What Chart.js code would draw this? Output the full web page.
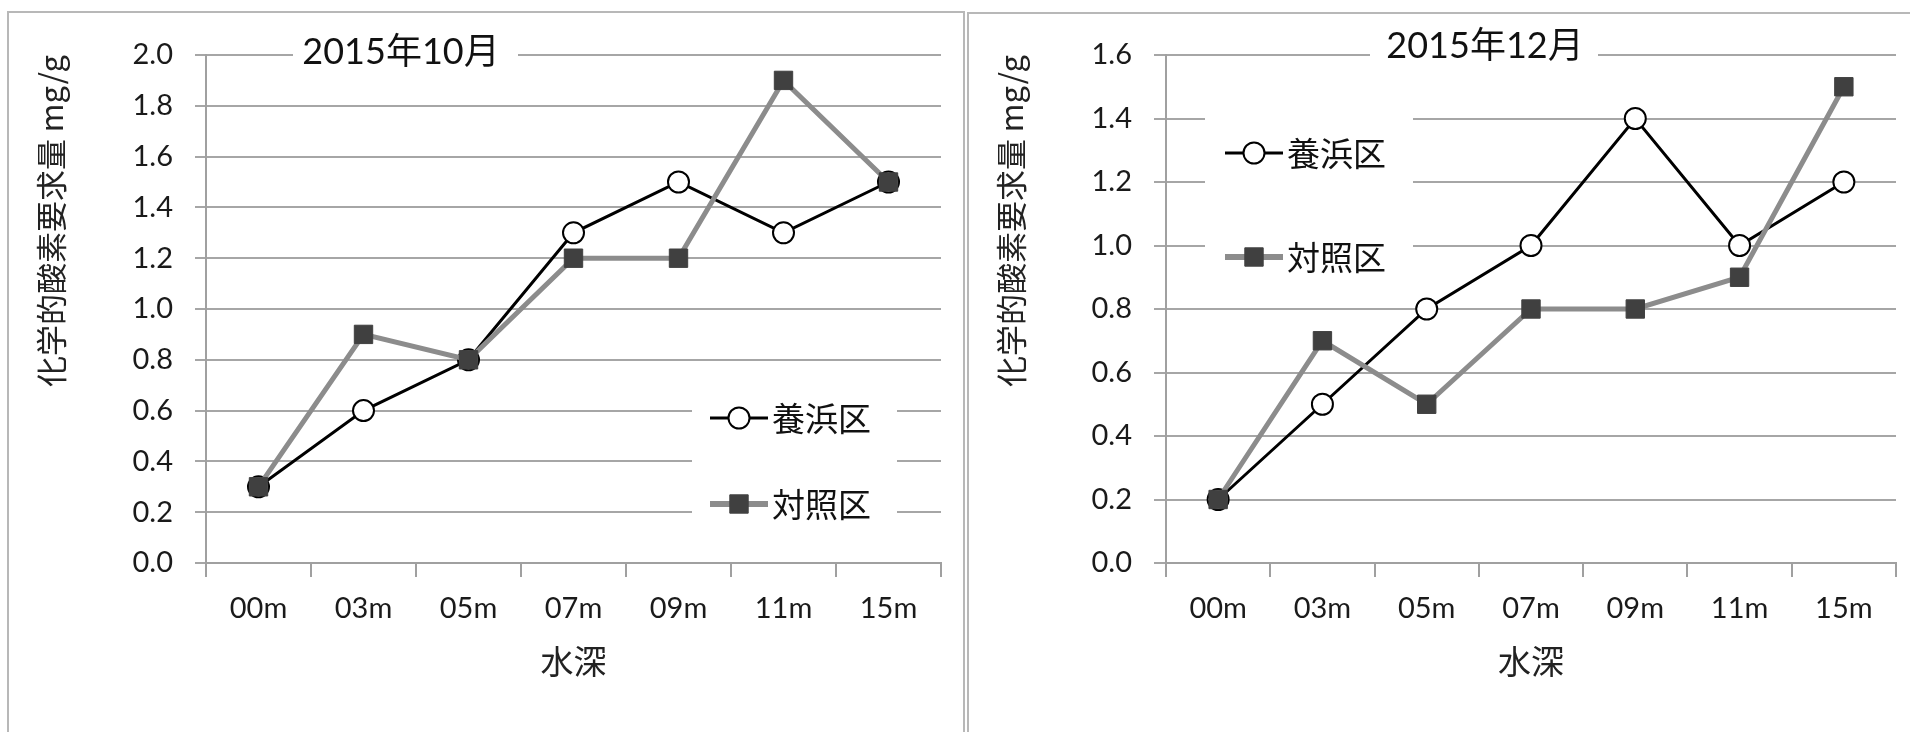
<!DOCTYPE html>
<html><head><meta charset="utf-8">
<script src="https://cdn.jsdelivr.net/npm/chart.js@4.4.1/dist/chart.umd.min.js"></script>
<style>
html,body{margin:0;padding:0;background:#fff;width:1910px;height:732px;overflow:hidden}
.panel{position:absolute;border:2px solid #b8b8b8;border-bottom:none;box-sizing:border-box}
.wrap{position:absolute;top:0;height:732px}
</style></head><body>
<div class="panel" style="left:7px;top:11px;width:958px;height:760px"></div>
<div class="panel" style="left:967px;top:12px;width:1000px;height:760px"></div>
<div class="wrap" style="left:0;width:962px"><canvas id="c1"></canvas></div>
<div class="wrap" style="left:964px;width:946px"><canvas id="c2"></canvas></div>
<script>
// ---- data ----
const depthLabels = ['00m','03m','05m','07m','09m','11m','15m'];
const seriesNames = ['養浜区','対照区'];
const octYohin  = [0.3, 0.6, 0.8, 1.3, 1.5, 1.3, 1.5];
const octTaisho = [0.3, 0.9, 0.8, 1.2, 1.2, 1.9, 1.5];
const decYohin  = [0.2, 0.5, 0.8, 1.0, 1.4, 1.0, 1.2];
const decTaisho = [0.2, 0.7, 0.5, 0.8, 0.8, 0.9, 1.5];
const titleOct = '2015年10月';
const titleDec = '2015年12月';
const yAxisTitle = '化学的酸素要求量 mg/g';
const xAxisTitle = '水深';
const yMaxOct = 2.0, yMaxDec = 1.6, yStep = 0.2;

const FONT = 'Lato, "Noto Sans CJK JP", sans-serif';
const CJK = '"Noto Sans CJK JP", Lato, sans-serif';
Chart.defaults.font.family = FONT;

const boxPlugin = {
  id: 'boxes',
  beforeDatasetsDraw(chart, args, o) {
    const ctx = chart.ctx;
    ctx.save();
    // title box
    const t = o.title;
    ctx.fillStyle = '#fff';
    ctx.fillRect(t.boxL, t.y - 22, t.boxR - t.boxL, 44);
    ctx.fillStyle = '#111';
    ctx.font = '36px ' + FONT;
    ctx.textAlign = 'center';
    ctx.textBaseline = 'middle';
    ctx.fillText(t.text, t.x, t.y);
    // legend box
    const l = o.legend;
    ctx.fillStyle = '#fff';
    ctx.fillRect(l.boxL, l.boxT, l.boxR - l.boxL, l.boxB - l.boxT);
    chart.data.datasets.forEach((ds, i) => {
      const y = l.rows[i];
      ctx.strokeStyle = ds.borderColor;
      ctx.lineWidth = ds.legendLineWidth || ds.borderWidth;
      ctx.beginPath();
      ctx.moveTo(l.lineL, y); ctx.lineTo(l.lineR, y);
      ctx.stroke();
      ctx.fillStyle = ds.pointBackgroundColor;
      ctx.strokeStyle = ds.pointBorderColor;
      ctx.lineWidth = ds.pointBorderWidth;
      Chart.helpers.drawPoint(ctx, {pointStyle: ds.pointStyle, radius: ds.pointRadius, borderWidth: ds.pointBorderWidth, rotation: 0}, l.markerX, y);
      ctx.fillStyle = '#111';
      ctx.font = '33px ' + CJK;
      ctx.textAlign = 'left';
      ctx.textBaseline = 'middle';
      ctx.fillText(ds.label, l.textX, y);
    });
    ctx.restore();
  }
};

function makeChart(id, c) {
  return new Chart(document.getElementById(id), {
    type: 'line',
    data: {
      labels: depthLabels,
      datasets: [
        {label: seriesNames[0], data: c.yohin, borderColor: '#000', borderWidth: 3,
         pointStyle: 'circle', pointRadius: 10.5, pointBackgroundColor: '#fff',
         pointBorderColor: '#000', pointBorderWidth: 2, order: 2, tension: 0},
        {label: seriesNames[1], data: c.taisho, borderColor: '#8c8c8c', borderWidth: 5, legendLineWidth: 6,
         pointStyle: 'rect', pointRadius: 13, pointBackgroundColor: '#404040',
         pointBorderColor: '#404040', pointBorderWidth: 1, order: 1, tension: 0}
      ]
    },
    options: {
      responsive: true, maintainAspectRatio: false, animation: false,
      layout: {padding: {left: 0, top: 55, right: c.padRight, bottom: 32}},
      plugins: {legend: {display: false}, tooltip: {enabled: false},
        boxes: {title: c.title, legend: c.legend}},
      scales: {
        x: {
          offset: true,
          grid: {offset: true, drawOnChartArea: false, drawTicks: true, tickLength: 14, color: '#a0a0a0', lineWidth: 2},
          border: {color: '#a0a0a0', width: 2},
          ticks: {font: {size: 29}, color: '#1a1a1a', padding: 14, maxRotation: 0, autoSkip: false},
          title: {display: true, text: xAxisTitle, font: {size: 33, family: CJK}, color: '#222', padding: {top: 0, bottom: 19}},
          afterFit: s => { s.height = 137; }
        },
        y: {
          min: 0, max: c.yMax,
          ticks: {stepSize: yStep, callback: v => Number(v).toFixed(1), font: {size: 29}, color: '#1a1a1a', padding: 22},
          grid: {color: '#a6a6a6', lineWidth: 2, tickLength: c.tickLen, drawTicks: true},
          border: {color: '#a0a0a0', width: 2},
          title: {display: true, text: yAxisTitle, align: 'end', font: {size: 31, family: CJK}, color: '#222', padding: {top: c.yTitlePad, bottom: 0}},
          afterFit: s => { s.width = c.yWidth; }
        }
      }
    },
    plugins: [boxPlugin]
  });
}

makeChart('c1', {
  yohin: octYohin, taisho: octTaisho, yMax: yMaxOct,
  padRight: 21, yWidth: 206, tickLen: 11, yTitlePad: 33,
  title: {text: titleOct, x: 401, y: 52, boxL: 293, boxR: 518},
  legend: {boxL: 692, boxR: 897, boxT: 375, boxB: 545, rows: [418, 504], lineL: 710, lineR: 768, markerX: 739, textX: 772}
});
makeChart('c2', {
  yohin: decYohin, taisho: decTaisho, yMax: yMaxDec,
  padRight: 10, yWidth: 202, tickLen: 12, yTitlePad: 29,
  title: {text: titleDec, x: 521, y: 46, boxL: 406, boxR: 634},
  legend: {boxL: 241, boxR: 449, boxT: 85, boxB: 295, rows: [153, 257], lineL: 261, lineR: 319, markerX: 290, textX: 323}
});
</script>
</body></html>
